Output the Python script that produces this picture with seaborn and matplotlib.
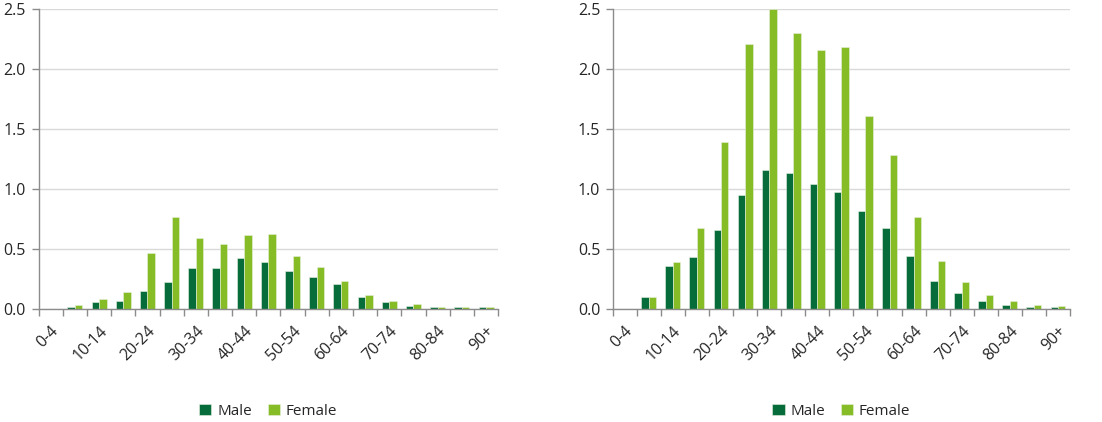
import pandas as pd
import matplotlib
matplotlib.use('Agg')
import matplotlib.pyplot as plt
import seaborn as sns

# Grupos de edad
edades = ['0-4', '5-9', '10-14', '15-19', '20-24', '25-29', '30-34', '35-39',
          '40-44', '45-49', '50-54', '55-59', '60-64', '65-69', '70-74',
          '75-79', '80-84', '85-89', '90+']

# Panel izquierdo
izq_male = [0.0, 0.02, 0.06, 0.07, 0.15, 0.225, 0.34, 0.34, 0.42, 0.39,
            0.318, 0.266, 0.205, 0.10, 0.058, 0.028, 0.015, 0.015, 0.015]
izq_female = [0.0, 0.03, 0.08, 0.14, 0.465, 0.767, 0.59, 0.537, 0.612, 0.62,
              0.443, 0.35, 0.235, 0.12, 0.07, 0.038, 0.015, 0.015, 0.012]

# Panel derecho
der_male = [0.0, 0.10, 0.36, 0.433, 0.66, 0.953, 1.158, 1.13, 1.044, 0.972,
            0.817, 0.67, 0.44, 0.236, 0.13, 0.067, 0.036, 0.017, 0.014]
der_female = [0.0, 0.10, 0.39, 0.672, 1.39, 2.21, 2.50, 2.295, 2.158, 2.18,
              1.608, 1.283, 0.764, 0.40, 0.222, 0.12, 0.067, 0.036, 0.028]

colores = {'Male': '#066c39', 'Female': '#86bc25'}

sns.set_theme(style='white')
plt.rcParams['font.family'] = ['Open Sans', 'DejaVu Sans']

fig = plt.figure(figsize=(11.02, 4.22), dpi=100)
ax1 = fig.add_axes([0.035, 0.268, 0.417, 0.711])
ax2 = fig.add_axes([0.556, 0.268, 0.415, 0.711])


def panel(ax, male, female):
    df = pd.DataFrame({
        'Edad': edades * 2,
        'Valor': male + female,
        'Sexo': ['Male'] * len(edades) + ['Female'] * len(edades),
    })
    sns.barplot(data=df, x='Edad', y='Valor', hue='Sexo', order=edades,
                hue_order=['Male', 'Female'], palette=colores, width=0.62,
                saturation=1, edgecolor='#e8f0e0', linewidth=0.4, ax=ax)
    ax.set_xlim(-0.5, len(edades) - 0.5)
    ax.set_ylim(0, 2.5)
    ax.set_yticks([0, 0.5, 1.0, 1.5, 2.0, 2.5])
    ax.set_yticklabels(['0.0', '0.5', '1.0', '1.5', '2.0', '2.5'])
    ax.yaxis.grid(True, color='#d9d9d9', linewidth=1)
    ax.set_axisbelow(True)
    ax.set_xlabel('')
    ax.set_ylabel('')
    # etiquetas cada dos grupos
    ax.set_xticks(range(0, len(edades), 2))
    ax.set_xticklabels(edades[::2], rotation=45, ha='right',
                       rotation_mode='anchor')
    ax.set_xticks([i - 0.5 for i in range(len(edades) + 1)], minor=True)
    ax.tick_params(axis='x', which='major', length=0, pad=10,
                   labelsize=11.5, labelcolor='#262626')
    ax.tick_params(axis='x', which='minor', length=5, color='#8c8c8c',
                   width=1, direction='out', bottom=True)
    ax.tick_params(axis='y', length=5, color='#8c8c8c', width=1,
                   direction='out', left=True, labelsize=11.5,
                   labelcolor='#262626', pad=4)
    for s in ['top', 'right']:
        ax.spines[s].set_visible(False)
    for s in ['left', 'bottom']:
        ax.spines[s].set_color('#8c8c8c')
        ax.spines[s].set_linewidth(1)
    ax.legend(loc='upper center', bbox_to_anchor=(0.5, -0.27), ncol=2,
              frameon=False, fontsize=11, handlelength=0.8,
              handleheight=0.8, handletextpad=0.4, columnspacing=1.0)


panel(ax1, izq_male, izq_female)
panel(ax2, der_male, der_female)

plt.savefig('out.png', dpi=100)
